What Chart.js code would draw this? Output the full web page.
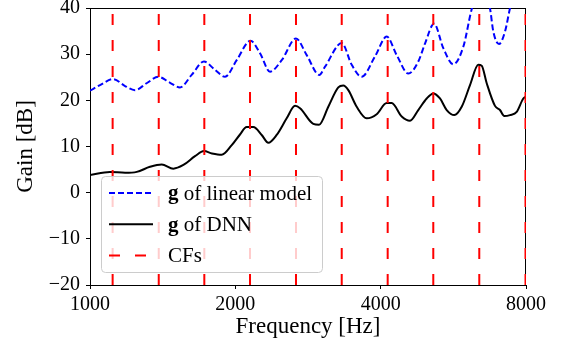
<!DOCTYPE html>
<html>
<head>
<meta charset="utf-8">
<script src="https://cdn.jsdelivr.net/npm/chart.js@4.4.1/dist/chart.umd.min.js"></script>
<style>
  html, body { margin: 0; padding: 0; background: #fff; }
  canvas { display: block; }
</style>
</head>
<body>
<canvas id="chart" width="561" height="344"></canvas>
<script>
// Gain of the linear model (blue dashed)
const linearFreq = [1000, 1049, 1117, 1182, 1239, 1310, 1385, 1465, 1536, 1624, 1722, 1815, 1904, 2013, 2150,
    2250, 2360, 2495, 2671, 2811, 2985, 3068, 3322, 3484, 3654, 3893, 4117, 4318, 4564, 4786,
    4942, 5160, 5393, 5656, 5932, 6184, 6405, 6611, 6738, 6845, 7033, 7238, 7413, 7701, 8000];
const linearGain = [22.1, 23.3, 24.6, 23.1, 22.2, 23.7, 25.1, 23.8, 22.8, 25.5, 28.4, 26.6, 25.1, 28.7, 32.9,
    30.2, 26.2, 28.7, 33.4, 29.8, 25.5, 27.3, 32.4, 27.7, 25.1, 29.5, 33.8, 29.8, 25.8, 28.4,
    32.3, 36.6, 31.3, 27.8, 31.6, 40.0, 44.0, 42.5, 39.9, 34.9, 32.2, 34.9, 40.0, 47.0, 54.0];

// Gain of the DNN (black solid)
const dnnFreq = [1000, 1100, 1182, 1250, 1331, 1408, 1488, 1561, 1650, 1722, 1789, 1874, 1966, 2045, 2111,
    2179, 2268, 2341, 2436, 2555, 2659, 2723, 2901, 2981, 3116, 3268, 3347, 3428, 3568, 3742,
    3925, 4117, 4216, 4422, 4601, 4786, 4982, 5141, 5308, 5481, 5683, 5887, 6125, 6372, 6476,
    6633, 6900, 7066, 7213, 7413, 7653, 7898, 8000];
const dnnGain = [3.8, 4.5, 4.3, 4.5, 5.6, 6.1, 5.2, 6.0, 7.9, 9.0, 8.5, 8.2, 10.3, 12.6, 14.2,
    14.2, 12.5, 10.8, 12.5, 16.1, 18.8, 18.3, 14.9, 14.7, 18.6, 22.8, 23.2, 22.2, 18.6, 16.1,
    17.0, 19.4, 19.4, 16.5, 15.6, 17.9, 20.4, 21.5, 20.4, 17.9, 16.8, 18.6, 23.3, 27.7, 27.5,
    23.7, 18.8, 17.9, 16.6, 16.8, 17.5, 20.4, 20.8];

// Centre frequencies (red dashed verticals)
const cfFreq = [1114, 1388, 1725, 2145, 2671, 3322, 4136, 5141, 6402, 7981];

const xTicks = [1000, 2000, 4000, 8000];
const yTicks = [-20, -10, 0, 10, 20, 30, 40];
const yMin = -20;
const yMax = 40;

const serif = '"Liberation Serif", "Times New Roman", serif';

function toPoints(xs, ys) {
    return xs.map((x, i) => ({ x: x, y: ys[i] }));
}

// one dataset for all CF lines, separated by gaps
const cfPoints = [];
cfFreq.forEach(f => {
    cfPoints.push({ x: f, y: yMin }, { x: f, y: yMax }, { x: f, y: null });
});

// Frame around the plot (all four spines)
const framePlugin = {
    id: 'frame',
    beforeDatasetsDraw(chart) {
        const a = chart.chartArea;
        const ctx = chart.ctx;
        ctx.save();
        ctx.strokeStyle = '#000';
        ctx.lineWidth = 1;
        ctx.strokeRect(a.left + 0.5, a.top + 0.5, a.right - a.left - 1, a.bottom - a.top);
        ctx.restore();
    }
};

// Legend box in the lower left, with bold "g"
const legendPlugin = {
    id: 'boxLegend',
    afterDatasetsDraw(chart) {
        const a = chart.chartArea;
        const ctx = chart.ctx;
        const bx = a.left + 11.5, by = 176.5, bw = 221, bh = 96;
        ctx.save();
        ctx.beginPath();
        ctx.roundRect(bx, by, bw, bh, 4);
        ctx.fillStyle = 'rgba(255, 255, 255, 0.8)';
        ctx.fill();
        ctx.strokeStyle = '#cccccc';
        ctx.lineWidth = 1;
        ctx.stroke();

        const order = [1, 2, 0]; // linear, DNN, CFs
        order.forEach((di, row) => {
            const ds = chart.data.datasets[di];
            const y = by + 16.5 + row * 31.3;
            ctx.beginPath();
            ctx.setLineDash(ds.borderDash || []);
            ctx.lineDashOffset = 0;
            ctx.strokeStyle = ds.borderColor;
            ctx.lineWidth = ds.borderWidth;
            ctx.moveTo(bx + 7.5, y);
            ctx.lineTo(bx + 51.5, y);
            ctx.stroke();
            ctx.setLineDash([]);

            ctx.fillStyle = '#000';
            ctx.textBaseline = 'middle';
            ctx.textAlign = 'left';
            let tx = bx + 66.5;
            let text = ds.label;
            if (text.startsWith('g ')) {
                ctx.font = 'bold 21px ' + serif;
                ctx.fillText('g', tx, y + 1);
                tx += ctx.measureText('g').width;
                text = text.slice(1);
            }
            ctx.font = '21px ' + serif;
            ctx.fillText(text, tx, y + 1);
        });
        ctx.restore();
    }
};

const ctx = document.getElementById('chart').getContext('2d');

const chart = new Chart(ctx, {
    type: 'line',
    data: {
        datasets: [
            {
                label: 'CFs',
                data: cfPoints,
                borderColor: '#ff0000',
                borderWidth: 2,
                borderDash: [11, 15],
                pointRadius: 0,
                tension: 0,
                spanGaps: false,
                order: 0
            },
            {
                label: 'g of linear model',
                data: toPoints(linearFreq, linearGain),
                borderColor: '#0000ff',
                borderWidth: 2,
                borderDash: [6, 3],
                pointRadius: 0,
                cubicInterpolationMode: 'monotone',
                order: 2
            },
            {
                label: 'g of DNN',
                data: toPoints(dnnFreq, dnnGain),
                borderColor: '#000000',
                borderWidth: 2,
                pointRadius: 0,
                cubicInterpolationMode: 'monotone',
                order: 1
            }
        ]
    },
    options: {
        responsive: false,
        animation: false,
        devicePixelRatio: 1,
        layout: {
            padding: { left: 0, right: 35, top: 8, bottom: 0 }
        },
        plugins: {
            legend: { display: false },
            tooltip: { enabled: false }
        },
        scales: {
            x: {
                type: 'logarithmic',
                min: 1000,
                max: 8000,
                afterBuildTicks: scale => {
                    scale.ticks = xTicks.map(v => ({ value: v }));
                },
                afterFit: scale => {
                    scale.height = 59;
                    scale.paddingLeft = 0;
                    scale.paddingRight = 0;
                },
                ticks: {
                    autoSkip: false,
                    maxRotation: 0,
                    padding: 4,
                    color: '#000',
                    font: { family: serif, size: 20 },
                    callback: value => String(value)
                },
                grid: {
                    drawOnChartArea: false,
                    drawTicks: true,
                    tickLength: 4,
                    color: '#000'
                },
                border: { display: false },
                title: {
                    display: true,
                    text: 'Frequency [Hz]',
                    color: '#000',
                    font: { family: serif, size: 23 },
                    padding: { top: 0, bottom: 3 }
                }
            },
            y: {
                min: yMin,
                max: yMax,
                afterBuildTicks: scale => {
                    scale.ticks = yTicks.map(v => ({ value: v }));
                },
                afterFit: scale => {
                    scale.width = 90;
                    scale.paddingTop = 0;
                    scale.paddingBottom = 0;
                },
                ticks: {
                    padding: 6,
                    color: '#000',
                    font: { family: serif, size: 20 },
                    callback: value => value < 0 ? '\u2212' + Math.abs(value) : String(value)
                },
                grid: {
                    drawOnChartArea: false,
                    drawTicks: true,
                    tickLength: 4,
                    color: '#000'
                },
                border: { display: false },
                title: {
                    display: true,
                    text: 'Gain [dB]',
                    color: '#000',
                    font: { family: serif, size: 23 },
                    padding: { top: 12, bottom: 0 }
                }
            }
        }
    },
    plugins: [framePlugin, legendPlugin]
});
</script>
</body>
</html>
